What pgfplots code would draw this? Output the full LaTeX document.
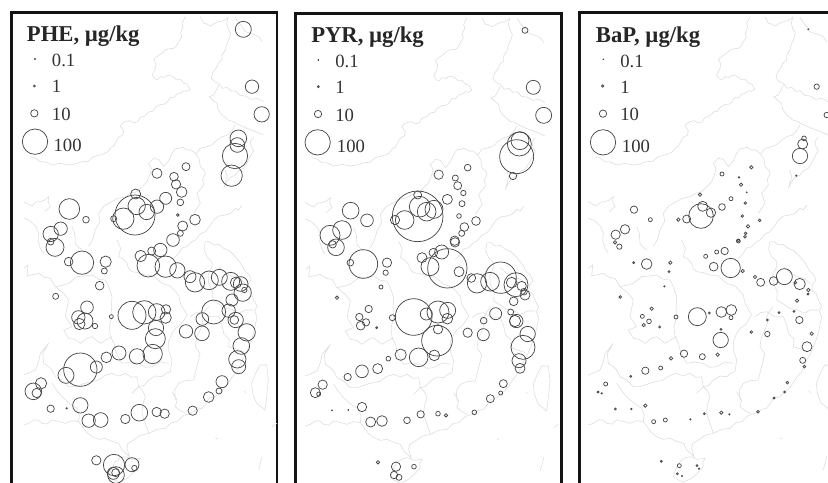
\documentclass[border=0pt]{standalone}
\usepackage{pgfplots}
\usepackage{pgfplotstable}
\usepackage{fontspec}
\setmainfont{Liberation Serif}
\pgfplotsset{compat=1.18}
\pgfplotstableread{
x y
540 50
530 70
533 82
526 98
529 112
520 125
512 140
505 145
492 146
480 150
470 160
462 165
445 178
452 192
450 205
440 225
448 236
455 240
465 230
475 232
488 226
500 228
512 238
525 238
536 250
545 252
555 268
545 274
535 272
525 280
515 282
505 294
495 292
486 306
478 312
464 314
450 322
442 334
432 335
418 348
405 352
396 366
385 368
372 362
360 365
350 370
345 378
355 392
352 405
340 412
335 420
325 438
318 442
306 456
295 462
280 466
265 470
248 484
230 485
210 492
190 495
165 490
140 495
122 486
105 485
90 474
75 470
nan nan
585 50
595 70
605 72
615 78
628 70
640 65
655 62
668 52
664 70
668 85
676 100
672 115
664 132
660 150
650 165
650 180
638 190
635 200
622 218
618 235
630 246
640 250
652 265
665 262
678 274
690 272
704 286
720 288
738 298
755 295
765 300
774 305
nan nan
690 52
700 68
710 78
716 90
720 95
735 100
750 105
762 112
770 125
nan nan
640 255
632 272
625 285
612 290
624 302
635 310
638 328
650 345
660 352
668 360
682 364
695 372
710 378
725 385
745 392
774 405
nan nan
690 375
680 392
668 405
650 410
635 420
620 434
605 440
585 445
572 462
582 478
585 500
596 510
600 520
592 538
595 555
575 580
585 610
565 640
nan nan
745 410
735 425
738 440
745 452
740 460
725 488
715 505
700 512
690 525
675 532
665 545
655 565
660 548
665 530
660 510
nan nan
572 462
558 450
545 450
532 442
520 445
510 446
500 460
490 482
475 500
460 478
445 475
430 490
438 505
435 520
425 545
410 560
395 575
376 580
360 590
335 596
310 610
296 618
280 640
284 664
270 690
262 718
250 740
nan nan
710 615
700 630
690 625
675 640
660 645
640 648
625 660
612 680
600 695
585 702
570 720
558 726
545 740
530 744
520 760
505 775
nan nan
55 605
68 612
80 618
92 606
105 605
118 600
130 590
128 606
135 620
118 635
nan nan
55 655
70 660
80 668
92 680
100 700
98 722
105 745
115 760
nan nan
200 680
208 700
210 730
220 742
230 750
nan nan
600 725
612 725
625 735
640 733
655 745
672 752
690 770
706 790
720 815
730 822
738 840
728 852
725 870
738 880
745 900
755 918
748 934
755 950
750 975
745 1000
738 1020
730 1040
722 1060
710 1080
703 1098
695 1115
680 1132
665 1155
650 1172
630 1190
612 1194
590 1225
575 1228
555 1240
535 1246
515 1265
498 1268
480 1285
455 1288
430 1300
405 1306
385 1320
368 1330
365 1345
372 1370
362 1360
350 1350
340 1330
320 1324
300 1315
280 1318
260 1310
245 1298
235 1285
220 1265
200 1262
180 1270
160 1264
140 1260
125 1272
110 1270
98 1260
85 1260
70 1270
55 1275
nan nan
340 770
352 776
365 790
370 806
380 815
400 818
420 825
445 828
470 850
495 858
520 885
525 910
545 945
536 960
525 975
512 984
500 1000
490 1024
490 1050
500 1080
495 1115
482 1120
470 1130
450 1128
430 1140
416 1156
400 1160
380 1180
nan nan
610 920
598 934
590 950
592 970
585 990
574 1012
570 1040
584 1060
580 1080
572 1110
565 1140
540 1142
520 1150
508 1170
510 1200
nan nan
555 950
572 938
590 935
615 950
640 950
650 975
655 1000
672 1018
670 1040
690 1046
715 1055
nan nan
600 725
596 748
605 770
620 785
620 800
608 825
610 850
622 875
620 900
640 912
660 925
680 928
700 940
722 930
745 930
nan nan
640 800
660 818
680 830
700 834
720 850
nan nan
55 805
68 795
65 828
100 820
118 832
135 835
150 860
170 856
190 850
215 830
240 828
260 825
280 838
300 840
nan nan
150 860
175 880
190 900
180 950
200 980
175 990
190 1015
208 1018
225 1030
245 1015
260 1010
285 1030
305 1018
320 1010
nan nan
300 840
310 860
320 890
318 920
320 950
312 980
315 1010
326 1030
330 1050
340 1072
350 1090
375 1086
400 1090
420 1102
440 1100
465 1086
490 1090
nan nan
55 1125
72 1118
90 1110
100 1085
105 1060
118 1045
130 1030
112 1060
115 1090
128 1098
140 1110
150 1130
170 1140
190 1160
210 1160
245 1148
280 1140
300 1126
320 1120
340 1128
360 1120
378 1132
395 1130
398 1148
400 1160
412 1172
420 1190
412 1215
410 1240
420 1270
430 1300
nan nan
140 1150
155 1172
170 1190
190 1208
215 1225
222 1245
220 1265
nan nan
500 1175
515 1200
510 1220
525 1232
540 1240
nan nan
335 720
346 745
340 770
nan nan
360 1370
382 1378
405 1375
398 1388
400 1400
384 1418
365 1435
340 1446
322 1438
310 1430
318 1405
330 1385
344 1374
360 1370
nan nan
764 1095
784 1095
789 1140
784 1190
779 1230
765 1218
754 1210
742 1180
739 1150
750 1122
764 1095
nan nan
770 1370
760 1410
nan nan
815 1270
800 1280
nan nan
630 1313
637 1317
nan nan
716 1172
722 1178
}\maptable
\pgfplotstableread{
x y r
730 88 24
756 260 20
785 343 23
715 415 25
712 435 22
705 468 38
695 527 32
558 500 12
471 520 15
522 530 13
528 553 14
545 576 16
497 595 18
541 607 10
471 620 20
407 582 15
410 618 26
440 636 23
405 645 60
370 656 32
341 656 9
533 645 4
585 659 16
548 678 15
541 700 9
519 720 19
208 627 31
258 659 10
182 686 20
152 702 23
165 742 27
152 725 10
}\pheN
\pgfplotstableread{
x y r
246 68 35
206 65 13
317 65 17
313 93 9
299 137 13
167 169 9
261 202 19
235 232 20
238 252 17
255 243 24
285 258 8
334 230 6
396 226 42
433 217 35
470 216 25
498 208 14
497 233 17
468 264 23
466 296 30
458 342 29
411 349 23
357 339 21
319 352 16
289 381 18
241 389 50
198 406 24
123 430 17
100 454 25
110 459 14
152 506 11
200 505 2
241 496 23
266 542 20
302 540 22
376 537 14
418 518 25
470 516 14
494 521 14
578 512 14
626 471 16
657 453 9
666 425 18
289 661 14
342 675 32
396 674 21
403 684 8
340 700 18
348 705 25
347 698 12
422 48 17
455 33 12
481 30 20
445 77 34
497 80 32
532 91 23
570 110 18
585 127 29
627 121 28
658 112 24
692 124 27
708 128 17
722 132 22
728 158 26
733 150 8
696 180 18
641 216 36
686 212 20
607 237 19
707 240 23
703 240 13
558 274 20
606 280 22
740 277 26
724 318 25
712 358 26
716 380 21
}\pheS
\pgfplotstableread{
x y r
720 91 9
745 262 21
776 346 24
705 422 27
703 432 36
695 470 51
684 528 11
548 503 10
461 524 14
511 534 9
518 557 12
535 579 8
487 598 15
531 611 9
522 648 7
573 663 13
538 681 13
530 700 9
509 722 14
398 649 76
398 585 12
404 620 31
425 635 28
447 628 27
359 660 28
330 660 14
197 632 25
246 661 19
171 690 28
135 706 30
143 733 11
}\pyrN
\pgfplotstableread{
x y r
153 22 25
235 72 43
196 68 10
306 68 14
302 98 8
288 141 6
156 173 5
251 207 11
223 231 11
243 247 11
227 257 13
275 263 3
322 233 9
386 231 55
424 222 18
459 216 33
488 211 24
487 236 16
459 268 14
456 302 46
448 346 16
401 352 28
347 344 17
310 356 7
278 386 15
231 394 19
188 411 11
113 434 14
91 458 15
101 462 6
141 511 1.5
190 510 1.5
231 501 14
257 546 15
291 543 16
366 541 10
407 523 11
459 521 7
483 526 5
568 517 7
616 476 12
647 459 6
655 431 12
279 667 5
333 680 14
387 680 7
327 705 11
342 712 9
510 7 14
411 53 15
445 38 13
470 36 21
435 80 27
487 85 59
522 95 15
559 114 13
576 130 29
615 125 28
647 113 47
680 128 16
693 134 36
710 138 14
717 155 10
720 165 15
686 184 13
632 221 18
677 216 9
596 242 10
694 243 20
690 243 17
548 278 14
595 284 18
728 282 23
714 322 36
702 362 21
705 385 15
}\pyrS
\pgfplotstableread{
x y r
715 88 1.5
740 260 8
770 345 8
702 415 7
698 432 15
690 468 23
679 527 2
544 502 5
456 522 6
507 532 2
513 554 5
530 577 1.5
483 596 6
526 609 4
456 621 10
390 584 5
398 619 15
423 638 14
393 648 37
350 657 12
325 659 5
517 648 4
569 661 4
534 679 5
527 700 4
525 710 4
505 722 4
192 629 11
241 659 6
165 688 14
137 704 14
148 740 8
135 727 5
}\bapN
\pgfplotstableread{
x y r
230 72 16
191 68 3
301 68 5
297 95 3
283 139 2
151 171 4
245 206 5
217 229 6
237 244 7
221 255 5
269 261 3
318 231 6
382 230 27
418 219 3
454 216 16
484 210 16
483 233 6
453 268 3
452 300 23
443 344 5
397 350 9
342 341 11
303 355 5
272 384 6
226 392 11
182 409 3
107 432 6
84 456 3
95 460 2
136 507 3
184 507 2
226 497 5
251 545 6
286 540 6
361 538 2
403 521 3
454 518 5
478 523 2
564 515 4
612 474 3
644 456 3
652 428 4
274 664 3
328 677 6
381 677 3
387 686 2
322 701 3
336 708 2
505 3 6
407 49 6
440 36 6
464 33 11
431 80 13
482 84 29
518 93 5
555 111 5
572 127 12
611 123 13
643 110 24
676 128 4
689 132 17
715 150 5
714 162 3
681 182 5
627 218 3
672 214 3
592 240 3
688 240 11
544 276 4
592 282 8
725 281 5
711 320 15
698 361 9
703 380 4
}\bapS
\pgfplotsset{
  panel/.style={
    scale only axis, width=199.25pt, height=365.5pt, anchor=north west,
    y dir=reverse, ymin=38, ymax=1500,
    xtick=\empty, ytick=\empty,
    axis line style={line width=2pt, color=black!92},
  },
  bub/.style={
    scatter, only marks, mark=o, line width=0.55pt,
    scatter/use mapped color={draw=black!72, fill=none},
    visualization depends on={0.25*\thisrow{r} \as \perpointmarksize},
    scatter/@pre marker code/.append style={/tikz/mark size=\perpointmarksize},
  },
  mapl/.style={color=black!13, line width=0.45pt, unbounded coords=jump, mark=none},
}
\newcommand{\ttl}[1]{\fontsize{17}{17}\selectfont\bfseries\color{black!85}#1}
\newcommand{\lab}[1]{\fontsize{14}{14}\selectfont\color{black!80}#1}
\begin{document}
\begin{tikzpicture}
\path[use as bounding box,clip] (0,0) rectangle (621pt,-361.5pt);
% PHE
\begin{axis}[panel, at={(8.5pt,-9.5pt)}, xmin=34, xmax=831]
\addplot[mapl] table[x expr=\thisrow{x}+16, y=y] {\maptable};
\addplot[bub] table {\pheN};
\addplot[bub] table[x=x, y expr=\thisrow{y}+720] {\pheS};
\addplot[bub] table {
x y r
105 177 1.5
103 258 3
103 340 11
105 425 38
};
\node[anchor=west,inner sep=0pt] at (axis cs:80,107) {\ttl{PHE, µg/kg}};
\node[anchor=west,inner sep=0pt] at (axis cs:155,181) {\lab{0.1}};
\node[anchor=west,inner sep=0pt] at (axis cs:155,260) {\lab{1}};
\node[anchor=west,inner sep=0pt] at (axis cs:155,343) {\lab{10}};
\node[anchor=west,inner sep=0pt] at (axis cs:160,436) {\lab{100}};
\end{axis}
% PYR
\begin{axis}[panel, at={(221.75pt,-10pt)}, xmin=32, xmax=829, ymin=40, ymax=1502]
\addplot[mapl] table[x expr=\thisrow{x}+6, y expr=\thisrow{y}+3] {\maptable};
\addplot[bub] table {\pyrN};
\addplot[bub] table[x=x, y expr=\thisrow{y}+720] {\pyrS};
\addplot[bub] table {
x y r
100 180 1.5
100 260 3
99 342 11
98 427 38
};
\node[anchor=west,inner sep=0pt] at (axis cs:78,110) {\ttl{PYR, µg/kg}};
\node[anchor=west,inner sep=0pt] at (axis cs:150,183) {\lab{0.1}};
\node[anchor=west,inner sep=0pt] at (axis cs:150,261) {\lab{1}};
\node[anchor=west,inner sep=0pt] at (axis cs:150,345) {\lab{10}};
\node[anchor=west,inner sep=0pt] at (axis cs:155,438) {\lab{100}};
\end{axis}
% BaP
\begin{axis}[panel, at={(434.5pt,-9.5pt)}, xmin=28, xmax=825]
\addplot[mapl] table {\maptable};
\addplot[bub] table {\bapN};
\addplot[bub] table[x=x, y expr=\thisrow{y}+720] {\bapS};
\addplot[bub] table {
x y r
100 178 1
98 258 3.5
99 341 11
99 427 38
};
\node[anchor=west,inner sep=0pt] at (axis cs:77,110) {\ttl{BaP, µg/kg}};
\node[anchor=west,inner sep=0pt] at (axis cs:150,183) {\lab{0.1}};
\node[anchor=west,inner sep=0pt] at (axis cs:150,261) {\lab{1}};
\node[anchor=west,inner sep=0pt] at (axis cs:150,343) {\lab{10}};
\node[anchor=west,inner sep=0pt] at (axis cs:155,438) {\lab{100}};
\end{axis}
\end{tikzpicture}
\end{document}
